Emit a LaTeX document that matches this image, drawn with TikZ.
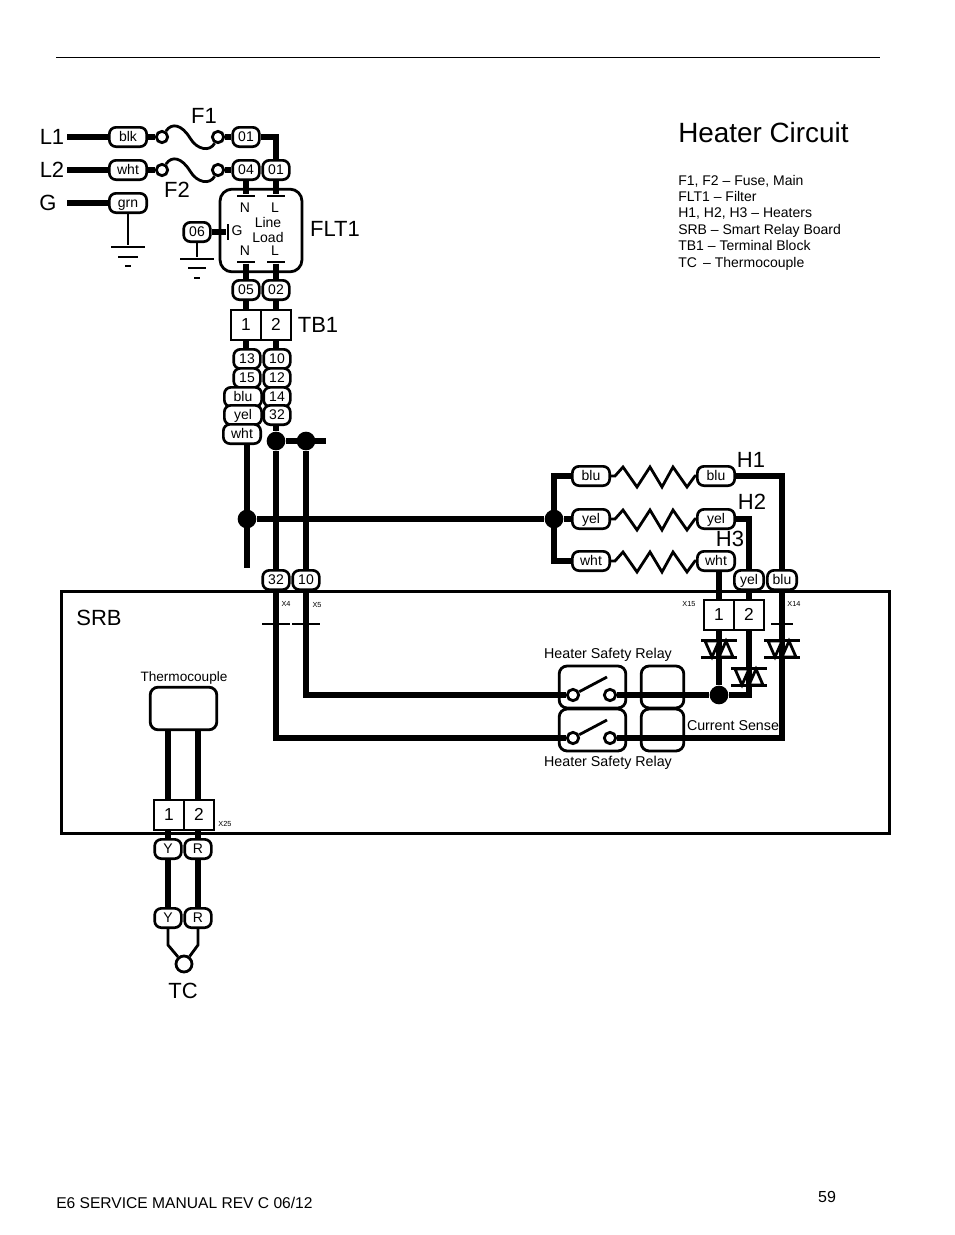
\documentclass[tikz,border=0pt]{standalone}
\usepackage{fontspec}
\setmainfont{Liberation Sans}

\begin{document}
\begin{tikzpicture}[x=0.75pt,y=-0.75pt]
	\tikzstyle{wire} = [draw=black, line width=4.1pt]
	\tikzstyle{thinwire} = [draw=black, line width=2.1pt]
	\tikzstyle{tag} = [rectangle, rounded corners=5pt, draw=black, fill=white, line width=2pt, minimum width=20pt, minimum height=14.5pt, inner sep=0pt, text height=1.45ex, text depth=0.25ex, font=\fontsize{10.5}{10}\selectfont]
	\tikzstyle{tagwide} = [tag, minimum width=28pt]
	\tikzstyle{tagmid} = [tag, minimum width=22pt]
	\tikzstyle{dot} = [circle, fill=black, minimum size=14pt, inner sep=0pt]
	\tikzstyle{contact} = [circle, draw=black, fill=white, line width=2.1pt, minimum size=8.5pt, inner sep=0pt]
	\tikzstyle{bar} = [rectangle, fill=black, minimum height=2.2pt, inner sep=0pt]
	\tikzstyle{block} = [rectangle, draw=black, fill=white, line width=2.1pt, minimum width=22.5pt, minimum height=22.5pt, inner sep=0pt, text height=1.45ex, text depth=0pt, font=\fontsize{13}{14}\selectfont]
	\tikzstyle{rbox} = [rectangle, rounded corners=6pt, draw=black, fill=white, line width=2.1pt, inner sep=0pt]
	\tikzstyle{big} = [font=\fontsize{16.5}{18}\selectfont]
	\tikzstyle{small} = [font=\fontsize{10.5}{12}\selectfont]
	\tikzstyle{tiny} = [font=\fontsize{5.5}{6}\selectfont]
	\tikzstyle{keyline} = [anchor=base west, inner sep=0pt, small]
	\useasboundingbox (0,0) rectangle (954,1235);

	\coordinate (ruleL) at (56,57);
	\coordinate (ruleR) at (880,57);
	\draw[line width=0.75pt] (ruleL) -- (ruleR);

	\node[rectangle, draw=black, line width=2.1pt, minimum width=621pt, minimum height=182pt, inner sep=0pt] (srb) at (475.5,712.5) {};

	\node[big] (l1) at (52,137) {L1};
	\node[big] (l2) at (52,170) {L2};
	\node[big] (g) at (48,203) {G};
	\node[big] (f1) at (204,116) {F1};
	\node[big] (f2) at (177,190) {F2};
	\node[big] (flt) at (335,229) {FLT1};
	\node[big] (tb) at (318,325) {TB1};
	\node[big] (h1) at (751,460) {H1};
	\node[big] (h2) at (752,502) {H2};
	\node[big] (h3) at (730,539) {H3};
	\node[big] (srblabel) at (99,618) {SRB};
	\node[big] (tc) at (183,991) {TC};

	\node[tagwide] (blk) at (128,137) {blk};
	\node[tagwide] (wht) at (128,170) {wht};
	\node[tagwide] (grn) at (128,203) {grn};
	\node[tag] (w01a) at (246,137) {01};
	\node[tag] (w04) at (246,170) {04};
	\node[tag] (w01b) at (276,170) {01};
	\node[tag] (w06) at (197,232) {06};
	\node[tag] (w05) at (246,290) {05};
	\node[tag] (w02) at (276,290) {02};
	\node[contact] (f1a) at (162,137) {};
	\node[contact] (f1b) at (218,137) {};
	\node[contact] (f2a) at (162,170) {};
	\node[contact] (f2b) at (218,170) {};
	\coordinate (l1s) at (67,137);
	\coordinate (l2s) at (67,170);
	\coordinate (gs) at (67,203);
	\coordinate (corner) at (276,137);

	\draw[wire] (l1s) -- (blk);
	\draw[wire] (l2s) -- (wht);
	\draw[wire] (gs) -- (grn);
	\draw[wire] (blk) -- (f1a);
	\draw[wire] (wht) -- (f2a);
	\draw[wire] (f1b) -- (w01a);
	\draw[wire] (f2b) -- (w04);
	\draw[wire] (w01a) -- (corner) -- (w01b);
	\draw[thinwire] (f1a) .. controls (172,122) and (182,125) .. (190,138) .. controls (197,150) and (210,152) .. (f1b);
	\draw[thinwire] (f2a) .. controls (172,155) and (182,158) .. (190,171) .. controls (197,183) and (210,185) .. (f2b);

	\node[rbox, minimum width=61.5pt, minimum height=62pt, rounded corners=9pt] (filter) at (261,230.5) {};
	\node[bar, minimum width=14pt] (capn) at (246,196) {};
	\node[bar, minimum width=14pt] (capl) at (276,196) {};
	\node[bar, minimum width=14pt] (capn2) at (246,262) {};
	\node[bar, minimum width=14pt] (capl2) at (276,262) {};
	\node[bar, minimum width=2.2pt, minimum height=12pt] (capg) at (228,232) {};
	\draw[wire] (w04) -- (capn);
	\draw[wire] (w01b) -- (capl);
	\draw[wire] (capn2) -- (w05);
	\draw[wire] (capl2) -- (w02);
	\draw[wire] (w06) -- (capg);
	\node[small] (fn) at (245,208) {N};
	\node[small] (fl) at (275,208) {L};
	\node[small] (fline) at (268,222) {Line};
	\node[small] (fload) at (268,237) {Load};
	\node[small] (fg) at (237,231) {G};
	\node[small] (fn2) at (245,251) {N};
	\node[small] (fl2) at (275,251) {L};

	\node[bar, minimum width=25pt] (g1a) at (128,247) {};
	\node[bar, minimum width=15pt] (g1b) at (128,257) {};
	\node[bar, minimum width=5pt] (g1c) at (128,266) {};
	\node[bar, minimum width=25pt] (g2a) at (197,259) {};
	\node[bar, minimum width=14pt] (g2b) at (197,268) {};
	\node[bar, minimum width=5pt] (g2c) at (197,278) {};
	\draw[thinwire] (grn) -- (g1a);
	\draw[thinwire] (w06) -- (g2a);

	\node[block] (tb1) at (246,325) {1};
	\node[block] (tb2) at (276,325) {2};
	\node[tag] (w13) at (247,359) {13};
	\node[tag] (w15) at (247,378) {15};
	\node[tagwide] (tblu) at (243,397) {blu};
	\node[tagwide] (tyel) at (243,415) {yel};
	\node[tagwide] (twht) at (242,434) {wht};
	\node[tag] (w10) at (277,359) {10};
	\node[tag] (w12) at (277,378) {12};
	\node[tag] (w14) at (277,397) {14};
	\node[tag] (w32) at (277,415) {32};
	\draw[wire] (w05) -- (tb1);
	\draw[wire] (w02) -- (tb2);
	\draw[wire] (tb1) -- (tb1 |- w13.north);
	\draw[wire] (tb2) -- (tb2 |- w10.north);

	\node[dot] (j1) at (276,441) {};
	\node[dot] (j2) at (306,441) {};
	\node[dot] (j3) at (247,519) {};
	\node[dot] (j4) at (554,519) {};
	\node[tag] (b32) at (276,580) {32};
	\node[tag] (b10) at (306,580) {10};
	\coordinate (jend) at (326,441);
	\coordinate (lowend) at (247,568);
	\coordinate (hiend) at (554,476);
	\coordinate (wtend) at (554,561);
	\draw[wire] (j1) -- (jend);
	\draw[wire] (w32.south -| j1) -- (j1);
	\draw[wire] (j1) -- (b32);
	\draw[wire] (j2) -- (b10);
	\draw[wire] (twht.south -| lowend) -- (lowend);
	\draw[wire] (j3) -- (j4);

	\node[tagwide] (lblu) at (591,476) {blu};
	\node[tagwide] (lyel) at (591,519) {yel};
	\node[tagwide] (lwht) at (591,561) {wht};
	\node[tagwide] (rblu) at (716,476) {blu};
	\node[tagwide] (ryel) at (716,519) {yel};
	\node[tagwide] (rwht) at (716,561) {wht};
	\draw[wire] (lblu) -- (hiend) -- (wtend) -- (lwht);
	\draw[wire] (j4) -- (lyel);
	\foreach \y/\a/\b in {476/lblu/rblu,519/lyel/ryel,561/lwht/rwht} {
		\draw[thinwire, line join=miter] (\a) -- (615,\y) -- (623,\y-9) -- (637,\y+11) -- (650,\y-9) -- (662,\y+11) -- (673,\y-9) -- (687,\y+11) -- (695,\y) -- (\b);
	}

	\node[tagmid] (syel) at (749,580) {yel};
	\node[tagmid] (sblu) at (782,580) {blu};
	\node[block] (x1) at (719,615) {1};
	\node[block] (x2) at (749,615) {2};
	\coordinate (h1c) at (782,476);
	\coordinate (h2c) at (749,519);
	\coordinate (botR) at (782,738);
	\coordinate (cs2) at (749,695);
	\draw[wire] (rblu) -- (h1c) -- (sblu);
	\draw[wire] (ryel) -- (h2c) -- (syel);
	\draw[wire] (rwht.south -| x1) -- (x1);
	\draw[wire] (syel) -- (x2);

	\node[rbox, minimum width=50pt, minimum height=31.5pt] (rel1) at (592.5,687) {};
	\node[rbox, minimum width=50pt, minimum height=31.5pt] (rel2) at (592.5,730) {};
	\node[rbox, minimum width=32pt, minimum height=31.5pt] (cur1) at (662.5,687) {};
	\node[rbox, minimum width=32pt, minimum height=31.5pt] (cur2) at (662.5,730) {};
	\node[contact] (c1a) at (573,695) {};
	\node[contact] (c1b) at (610,695) {};
	\node[contact] (c2a) at (573,738) {};
	\node[contact] (c2b) at (610,738) {};
	\node[dot] (j5) at (719,695) {};
	\coordinate (c1t) at (607,677);
	\coordinate (c2t) at (607,720);
	\coordinate (w5c) at (306,695);
	\coordinate (w4c) at (276,738);
	\draw[wire] (b10) -- (w5c) -- (c1a);
	\draw[wire] (b32) -- (w4c) -- (c2a);
	\draw[wire] (c1b) -- (j5);
	\draw[wire] (j5) -- (cs2) -- (x2);
	\draw[wire] (x1) -- (j5);
	\draw[wire] (c2b) -- (botR) -- (sblu);
	\draw[thinwire] (c1a) -- (c1t);
	\draw[thinwire] (c2a) -- (c2t);

	\foreach \x/\y in {719/649,749/677,782/649} {
		\filldraw[draw=black, fill=white, line width=2.1pt, line join=miter] (\x-14,\y-8) -- (\x,\y-8) -- (\x-7,\y+8) -- cycle;
		\filldraw[draw=black, fill=white, line width=2.1pt, line join=miter] (\x,\y+8) -- (\x+14,\y+8) -- (\x+7,\y-8) -- cycle;
		\fill[black] (\x-18,\y-10) rectangle (\x+18,\y-7);
		\fill[black] (\x-18,\y+7) rectangle (\x+18,\y+10);
	}

	\node[bar, minimum width=21pt] (b4) at (276,624) {};
	\node[bar, minimum width=21pt] (b5) at (306,624) {};
	\node[bar, minimum width=17pt] (b14) at (782,624) {};

	\node[rbox, minimum width=50pt, minimum height=32pt] (therm) at (183.5,708.5) {};
	\node[block] (t1) at (169,815) {1};
	\node[block] (t2) at (199,815) {2};
	\node[tag] (y1) at (168,849) {Y};
	\node[tag] (r1) at (198,849) {R};
	\node[tag] (y2) at (168,918) {Y};
	\node[tag] (r2) at (198,918) {R};
	\node[contact, minimum size=12pt] (tcj) at (184,964) {};
	\coordinate (yb) at (168,945);
	\coordinate (rb) at (198,945);
	\draw[wire] (y1 |- therm.south) -- (y1 |- t1.north);
	\draw[wire] (r1 |- therm.south) -- (r1 |- t2.north);
	\draw[wire] (y1 |- t1.south) -- (y1) -- (y2);
	\draw[wire] (r1 |- t2.south) -- (r1) -- (r2);
	\draw[thinwire] (y2) -- (yb) -- (tcj);
	\draw[thinwire] (r2) -- (rb) -- (tcj);

	\node[font=\fontsize{10.7}{12}\selectfont] (hsr1) at (608,654.5) {Heater Safety Relay};
	\node[font=\fontsize{10.7}{12}\selectfont] (hsr2) at (608,762.5) {Heater Safety Relay};
	\node[font=\fontsize{10.7}{12}\selectfont] (csense) at (733,726) {Current Sense};
	\node[font=\fontsize{10.2}{12}\selectfont] (tclabel) at (184,677.5) {Thermocouple};
	\node[tiny] (x4) at (286,604) {X4};
	\node[tiny] (x5) at (317,605) {X5};
	\node[tiny] (x15) at (689,604) {X15};
	\node[tiny] (x14) at (794,604) {X14};
	\node[tiny] (x25) at (225,824) {X25};

	\node[anchor=west, inner sep=0pt, font=\fontsize{20.9}{24}\selectfont] (title) at (678,133) {Heater Circuit};
	\node[keyline] (k1) at (678,185) {F1, F2 – Fuse, Main};
	\node[keyline] (k2) at (678,201) {FLT1 – Filter};
	\node[keyline] (k3) at (678,217) {H1, H2, H3 – Heaters};
	\node[keyline] (k4) at (678,234) {SRB – Smart Relay Board};
	\node[keyline] (k5) at (678,250) {TB1 – Terminal Block};
	\node[keyline] (k6) at (678,267) {TC\, – Thermocouple};

	\node[anchor=west, inner sep=0pt, font=\fontsize{11.7}{14}\selectfont] (foot) at (56,1203) {E6 SERVICE MANUAL REV C 06/12};
	\node[font=\fontsize{12}{14}\selectfont] (page) at (827,1197) {59};
\end{tikzpicture}
\end{document}
